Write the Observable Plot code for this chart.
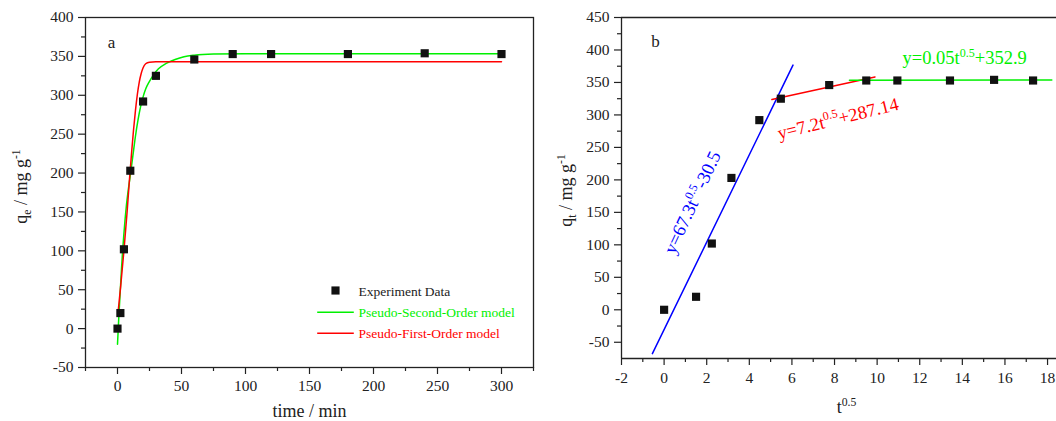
<!DOCTYPE html>
<html><head><meta charset="utf-8">
<script src="https://cdn.jsdelivr.net/npm/d3@7"></script>
<script src="https://cdn.jsdelivr.net/npm/@observablehq/plot@0.6"></script>
<style>
body{margin:0;background:#fff;}
#fig{position:relative;width:1056px;height:421px;overflow:hidden;background:#fff;}
#fig svg{position:absolute;top:0;}
</style></head><body><div id="fig"></div>
<script>
// ---- data ----
const timeMin = [0, 2.25, 5, 10, 20, 30, 60, 90, 120, 180, 240, 300];
const qExp = [0, 20, 102, 203, 292, 325, 346, 353, 353, 353, 354, 353];
const sqrtTime = [0, 1.5, 2.24, 3.16, 4.47, 5.48, 7.75, 9.49, 10.95, 13.42, 15.49, 17.32];

const psoTime = [0, 1, 2, 3, 4, 5, 6, 7, 8, 10, 12, 14, 16, 18, 20, 22, 25, 28, 32, 38, 45, 52, 60, 75, 100, 300];
const psoQ = [-20, 14, 44, 73, 100, 122, 142, 159, 173, 197, 222, 247, 268, 285, 298, 308, 318, 326, 334, 341, 346, 349.5, 351.5, 353, 353.5, 353.5];

const pfoTime = [0.5, 2.5, 5, 7.5, 9.5, 11, 12.5, 14, 15.5, 17, 18.5, 20, 22, 25, 30, 300];
const pfoQ = [22, 55, 100, 150, 195, 226, 255, 280, 301, 317, 328, 335.5, 340.5, 342.5, 343, 343];

const stage1X = [-0.55, 6.05], stage1Y = [-67.5, 376.7];
const stage2X = [5.06, 9.9], stage2Y = [323.6, 358.4];
const stage3X = [8.7, 18.2], stage3Y = [353.3, 353.8];

const aXMajor = [0, 50, 100, 150, 200, 250, 300];
const aXMinor = [-25, 25, 75, 125, 175, 225, 275, 325];
const aYMajor = [-50, 0, 50, 100, 150, 200, 250, 300, 350, 400];
const aYMinor = [-25, 25, 75, 125, 175, 225, 275, 325, 375];
const bXMajor = [-2, 0, 2, 4, 6, 8, 10, 12, 14, 16, 18];
const bXMinor = [-1, 1, 3, 5, 7, 9, 11, 13, 15, 17];
const bYMajor = [-50, 0, 50, 100, 150, 200, 250, 300, 350, 400, 450];
const bYMinor = [-25, 25, 75, 125, 175, 225, 275, 325, 375, 425];

const legendLabels = ["Experiment Data", "Pseudo-Second-Order model", "Pseudo-First-Order model"];
const eqLabels = ["y=67.3t^{0.5}-30.5", "y=7.2t^{0.5}+287.14", "y=0.05t^{0.5}+352.9"];

// ---- tables ----
const zip = (xs, ys) => xs.map((x, i) => ({x, y: ys[i]}));
const expA = zip(timeMin, qExp);
const expB = zip(sqrtTime, qExp);
const pso = zip(psoTime, psoQ);
const pfo = zip(pfoTime, pfoQ);
const st1 = zip(stage1X, stage1Y), st2 = zip(stage2X, stage2Y), st3 = zip(stage3X, stage3Y);

const GREEN = "#00f000", RED = "#ff0000", BLUE = "#0000ff", INK = "#222";
const FONT = "Liberation Serif";
const style = {fontFamily: "'Liberation Serif', 'Times New Roman', Times, serif", fontSize: "15px", color: INK, background: "white", overflow: "visible"};
const fmt = d => String(d);
const hline = {draw(ctx) { ctx.moveTo(-18.3, 0); ctx.lineTo(18.3, 0); }};
const ax = {label: null, strokeWidth: 1.2, fontFamily: FONT, fontSize: 15.5};

const A = Plot.plot({
  width: 540, height: 421,
  marginLeft: 85, marginRight: 7, marginTop: 17, marginBottom: 54,
  x: {domain: [-25, 325]},
  y: {domain: [-50, 400]},
  style,
  marks: [
    Plot.frame({stroke: INK, strokeWidth: 1.3}),
    Plot.axisX({...ax, ticks: aXMinor, tickSize: 4, tickFormat: () => ""}),
    Plot.axisX({...ax, ticks: aXMajor, tickSize: 7, tickPadding: 5, tickFormat: fmt}),
    Plot.axisY({...ax, ticks: aYMinor, tickSize: 4, tickFormat: () => ""}),
    Plot.axisY({...ax, ticks: aYMajor, tickSize: 7, tickPadding: 5, tickFormat: fmt}),
    Plot.line(pso, {x: "x", y: "y", stroke: GREEN, strokeWidth: 1.5, curve: "monotone-x"}),
    Plot.line(pfo, {x: "x", y: "y", stroke: RED, strokeWidth: 1.5, curve: "monotone-x"}),
    Plot.dot(expA, {x: "x", y: "y", symbol: "square", r: 4.6, fill: "#111"}),
    Plot.text(["a"], {frameAnchor: "top-left", text: d => d, dx: 26, dy: 25.5, textAnchor: "middle", lineAnchor: "middle", fontSize: 17, fill: INK}),
    // legend
    Plot.dot([0], {frameAnchor: "top-left", dx: 250, dy: 273, symbol: "square", r: 4.6, fill: "#111"}),
    Plot.dot([0], {frameAnchor: "top-left", dx: 250, dy: 294.7, symbol: hline, fill: "none", stroke: GREEN, strokeWidth: 1.5}),
    Plot.dot([0], {frameAnchor: "top-left", dx: 250, dy: 315.7, symbol: hline, fill: "none", stroke: RED, strokeWidth: 1.5}),
    Plot.text([legendLabels[0]], {frameAnchor: "top-left", text: d => d, dx: 273, dy: 274.5, textAnchor: "start", lineAnchor: "middle", fontSize: 13.5, fill: INK}),
    Plot.text([legendLabels[1]], {frameAnchor: "top-left", text: d => d, dx: 273, dy: 295.2, textAnchor: "start", lineAnchor: "middle", fontSize: 13.5, fill: GREEN}),
    Plot.text([legendLabels[2]], {frameAnchor: "top-left", text: d => d, dx: 273, dy: 316.4, textAnchor: "start", lineAnchor: "middle", fontSize: 13.5, fill: RED}),
    // axis titles
    Plot.text(["q_{e} / mg g^{-1}"], {frameAnchor: "left", text: d => d, rotate: -90, dx: -64, dy: -6, textAnchor: "middle", lineAnchor: "middle", fontSize: 18, fill: INK}),
    Plot.text(["time / min"], {frameAnchor: "bottom", text: d => d, dy: 44, textAnchor: "middle", lineAnchor: "middle", fontSize: 18, fill: INK})
  ]
});

const B = Plot.plot({
  width: 516, height: 421,
  marginLeft: 81, marginRight: 0, marginTop: 17, marginBottom: 63,
  x: {domain: [-2, 18.42]},
  y: {domain: [-75, 450]},
  style,
  marks: [
    Plot.ruleX([-2], {stroke: INK, strokeWidth: 1.3}),
    Plot.ruleY([-75], {stroke: INK, strokeWidth: 1.3}),
    Plot.ruleY([450], {stroke: INK, strokeWidth: 1.3}),
    Plot.axisX({...ax, ticks: bXMinor, tickSize: 4, tickFormat: () => ""}),
    Plot.axisX({...ax, ticks: bXMajor, tickSize: 7, tickPadding: 6, tickFormat: fmt}),
    Plot.axisY({...ax, ticks: bYMinor, tickSize: 4, tickFormat: () => ""}),
    Plot.axisY({...ax, ticks: bYMajor, tickSize: 7, tickPadding: 5, tickFormat: fmt}),
    Plot.line(st1, {x: "x", y: "y", stroke: BLUE, strokeWidth: 1.5}),
    Plot.line(st2, {x: "x", y: "y", stroke: RED, strokeWidth: 1.5}),
    Plot.line(st3, {x: "x", y: "y", stroke: GREEN, strokeWidth: 1.5}),
    Plot.dot(expB, {x: "x", y: "y", symbol: "square", r: 4.6, fill: "#111"}),
    Plot.text(["b"], {frameAnchor: "top-left", text: d => d, dx: 34, dy: 24, textAnchor: "middle", lineAnchor: "middle", fontSize: 17, fill: INK}),
    Plot.text([eqLabels[0]], {frameAnchor: "top-left", text: d => d, dx: 71, dy: 185, rotate: -65, textAnchor: "middle", lineAnchor: "middle", fontSize: 18.5, fill: BLUE}),
    Plot.text([eqLabels[1]], {frameAnchor: "top-left", text: d => d, dx: 216.5, dy: 101.3, rotate: -14, textAnchor: "middle", lineAnchor: "middle", fontSize: 18.5, fill: RED}),
    Plot.text([eqLabels[2]], {frameAnchor: "top-left", text: d => d, dx: 281, dy: 41, textAnchor: "start", lineAnchor: "middle", fontSize: 18.5, fill: GREEN}),
    Plot.text(["q_{t} / mg g^{-1}"], {frameAnchor: "left", text: d => d, rotate: -90, dx: -55, dy: 2.5, textAnchor: "middle", lineAnchor: "middle", fontSize: 18, fill: INK}),
    Plot.text(["t^{0.5}"], {frameAnchor: "bottom", text: d => d, dx: 7.5, dy: 49, textAnchor: "middle", lineAnchor: "middle", fontSize: 18, fill: INK})
  ]
});

const fig = document.getElementById("fig");
A.style.left = "0px";
B.style.left = "540px";
fig.appendChild(A);
fig.appendChild(B);

function richify(svg) {
  svg.querySelectorAll("text").forEach(el => {
    const s = el.textContent;
    if (!/[\^_]\{/.test(s)) return;
    const fs = parseFloat(getComputedStyle(el).fontSize) || 15;
    const parts = s.split(/(\^\{[^}]*\}|_\{[^}]*\})/).filter(p => p !== "");
    while (el.firstChild) el.removeChild(el.firstChild);
    let shift = 0;
    for (const p of parts) {
      let txt = p, target = 0, size = null;
      if (p.startsWith("^{")) { txt = p.slice(2, -1); target = -0.42 * fs; size = 0.65 * fs; }
      else if (p.startsWith("_{")) { txt = p.slice(2, -1); target = 0.22 * fs; size = 0.65 * fs; }
      const ts = document.createElementNS("http://www.w3.org/2000/svg", "tspan");
      ts.textContent = txt;
      if (size) ts.setAttribute("font-size", size);
      if (target !== shift) { ts.setAttribute("dy", (target - shift).toFixed(2)); shift = target; }
      el.appendChild(ts);
    }
  });
}
richify(A);
richify(B);
</script></body></html>
